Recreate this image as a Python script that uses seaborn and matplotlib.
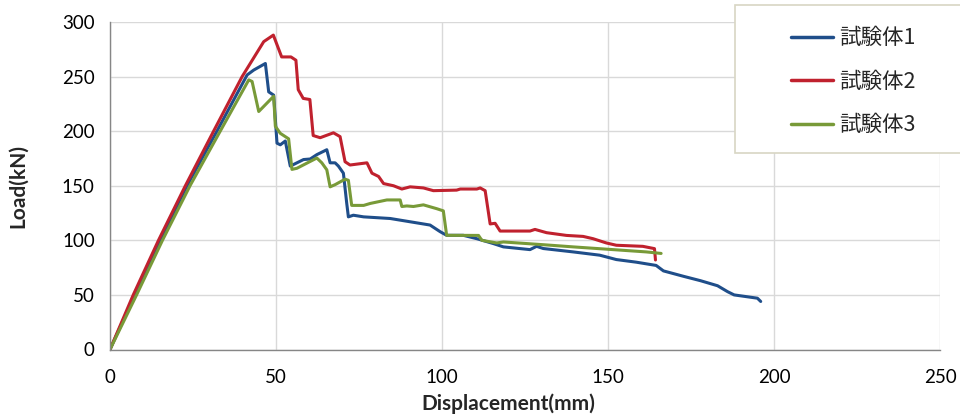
import numpy as np
import pandas as pd
import matplotlib
matplotlib.use("Agg")
import matplotlib.pyplot as plt
from matplotlib.patches import Rectangle
import seaborn as sns

# Load-displacement readings for the three specimens (mm, kN)
disp_1 = [0, 7.4, 15.1, 23.2, 32.2, 41.3, 43.3, 46.8, 47.8, 49.3, 50.3, 51.3, 52.8,
          54.3, 56.3, 58.3, 60.3, 62.3, 65.3, 66.3, 67.8, 68.8, 70.3, 71.3, 71.8,
          73.3, 76.4, 84.4, 90.4, 96.4, 99.4, 101.4, 106.4, 110.5, 115.5, 118.5,
          126.5, 128.5, 130.5, 139.5, 147.5, 152.5, 158.5, 164.5, 166.7, 172.8,
          177.9, 183.0, 186.0, 188.0, 195.0, 196.0]
load_1 = [0, 50, 100, 150, 200, 251.5, 256, 262, 236, 233, 189, 187.5, 191,
          168, 171, 174, 174.5, 178.5, 183, 171, 171, 168, 161.5, 134, 121.5,
          123, 121.5, 120, 117, 114, 108, 104.6, 104.6, 101.5, 97, 94,
          91.5, 94.5, 92.5, 89.4, 86.4, 82.4, 80, 77, 72, 67,
          63, 58.4, 53, 50, 47, 44]

disp_2 = [0, 7.0, 14.6, 22.7, 31.2, 39.8, 46.3, 49.2, 51.7, 54.5, 56.0, 56.7, 58.2,
          60.2, 61.2, 63.3, 67.3, 69.3, 70.8, 72.3, 77.4, 78.9, 80.9, 82.4, 85.4,
          87.9, 90.4, 94.4, 97.4, 104.4, 105.5, 110.5, 111.5, 113.0, 114.5, 116.0,
          117.5, 126.5, 128.0, 131.5, 137.5, 142.5, 145.5, 149.5, 152.5, 160.5,
          164.0, 164.3]
load_2 = [0, 50, 100, 150, 200, 250, 282, 288, 268, 268, 265, 238, 230,
          229, 196, 194, 198.5, 195, 172, 169, 171, 161.5, 158.5, 152, 150,
          147, 149, 148, 145.5, 146, 147, 147, 148, 145.5, 115, 115.6,
          108.5, 108.5, 110, 107, 104.5, 103.6, 101.5, 97.6, 95.5, 94.5,
          92.4, 82]

disp_3 = [0, 8.0, 15.8, 24.1, 33.2, 41.8, 42.8, 44.8, 49.3, 49.8, 51.3, 53.8, 54.8,
          56.3, 62.3, 63.8, 65.3, 66.3, 67.8, 70.8, 71.8, 72.8, 76.4, 78.4, 83.4,
          87.4, 87.9, 89.4, 91.4, 94.4, 98.4, 100.4, 101.4, 111.0, 112.0, 116.5,
          118.5, 130.5, 139.5, 151.5, 161.5, 166.0]
load_3 = [0, 50, 100, 150, 200, 247, 245.5, 218, 232, 204.5, 198, 193, 165,
          166, 175.4, 171, 164.6, 149, 151, 156, 155, 132, 132, 133.8, 137,
          137, 131, 131.5, 131, 132.5, 129, 127, 104.6, 104.5, 100, 97.6,
          98.5, 96, 94, 91.5, 89.4, 88]

names = ["試験体1", "試験体2", "試験体3"]
colors = ["#1F4E8A", "#C0212E", "#789A38"]

x_ticks = [0, 50, 100, 150, 200, 250]
y_ticks = [0, 50, 100, 150, 200, 250, 300]

df = pd.concat([
    pd.DataFrame({"disp": d, "load": l, "specimen": n})
    for d, l, n in zip([disp_1, disp_2, disp_3], [load_1, load_2, load_3], names)
], ignore_index=True)

sns.set_style("white")
plt.rcParams["font.family"] = ["Lato", "Noto Sans CJK JP", "DejaVu Sans"]

fig = plt.figure(figsize=(9.6, 4.18), dpi=100)
ax = fig.add_axes([110 / 960, 1 - 349.5 / 418, 830 / 960, 327.5 / 418])

sns.lineplot(data=df, x="disp", y="load", hue="specimen", hue_order=names,
             palette=dict(zip(names, colors)), sort=False, estimator=None,
             linewidth=2.2, ax=ax)

ax.set_xlim(0, 250)
ax.set_ylim(0, 300)
ax.set_xticks(x_ticks)
ax.set_yticks(y_ticks)
ax.grid(True, color="#D9D9D9", linewidth=1.0)
ax.set_axisbelow(True)
for side in ["top", "right"]:
    ax.spines[side].set_visible(False)
for side in ["left", "bottom"]:
    ax.spines[side].set_color("#868686")
    ax.spines[side].set_linewidth(1.0)
ax.tick_params(axis="both", direction="out", length=5, width=1.0,
               color="#868686", labelsize=13.5, labelcolor="#000000", pad=6)
ax.tick_params(axis="x", pad=9)
ax.set_xlabel("Displacement(mm)", fontsize=15, fontweight="bold")
ax.set_ylabel("Load(kN)", fontsize=15, fontweight="bold")
ax.xaxis.set_label_coords(0.48, -0.135)
ax.yaxis.set_label_coords(-0.099, 0.5)

# legend box, drawn like the spreadsheet one at the top right
handles, labels = ax.get_legend_handles_labels()
ax.get_legend().remove()
fig.patches.append(Rectangle((735 / 960, 1 - 153 / 418), 300 / 960, 148 / 418,
                             transform=fig.transFigure, facecolor="white",
                             edgecolor="#D8D6C4", linewidth=1.2, zorder=5))
leg = fig.legend(handles, labels, loc="upper left",
                 bbox_to_anchor=(772 / 960, 1 - 8 / 418), frameon=False,
                 prop={"family": ["Noto Sans CJK JP"], "size": 15.5},
                 handlelength=1.95, handletextpad=0.25, labelspacing=1.0)
leg.set_zorder(6)
for h in leg.get_lines():
    h.set_linewidth(2.5)

fig.savefig("out.png", dpi=100)
